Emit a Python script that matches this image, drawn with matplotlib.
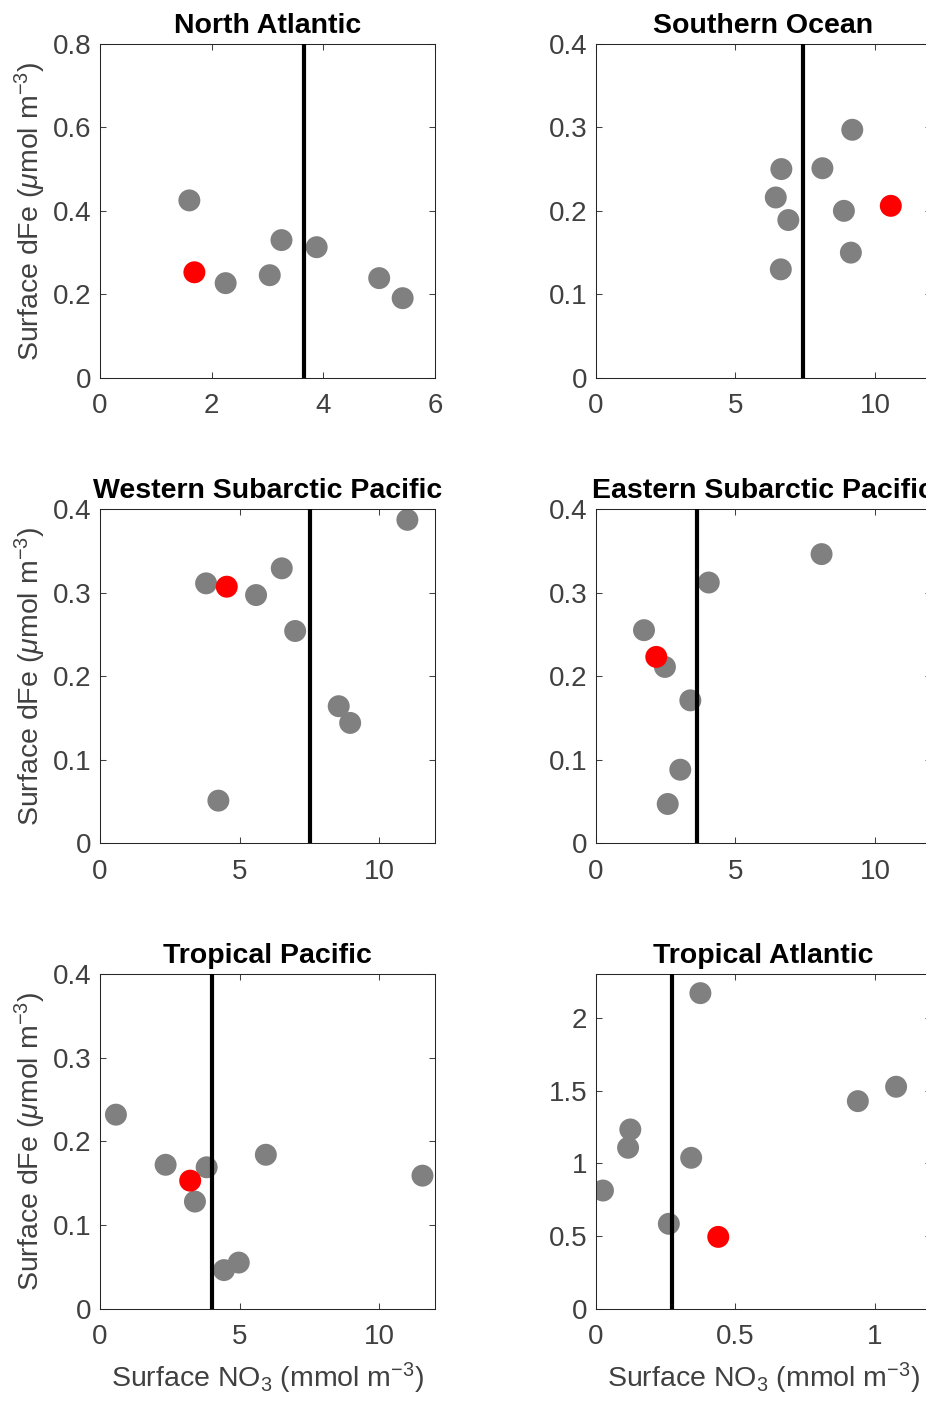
import matplotlib
matplotlib.use("Agg")
import matplotlib.pyplot as plt
from matplotlib.ticker import FuncFormatter

plt.rcParams['font.family'] = ['Liberation Sans', 'DejaVu Sans']
plt.rcParams['mathtext.fontset'] = 'custom'
plt.rcParams['mathtext.rm'] = 'Liberation Sans'
plt.rcParams['mathtext.it'] = 'Liberation Sans:italic'

# panel titles
titles = ['North Atlantic', 'Southern Ocean',
          'Western Subarctic Pacific', 'Eastern Subarctic Pacific',
          'Tropical Pacific', 'Tropical Atlantic']

# grey points: surface NO3 (mmol m-3) and surface dFe (umol m-3)
na_no3 = [1.60, 2.25, 3.04, 3.25, 3.88, 5.00, 5.42]
na_dfe = [0.425, 0.227, 0.246, 0.330, 0.313, 0.239, 0.191]
so_no3 = [9.19, 6.65, 8.12, 6.45, 6.90, 8.89, 9.14, 6.63]
so_dfe = [0.297, 0.250, 0.251, 0.216, 0.189, 0.200, 0.150, 0.130]
wsp_no3 = [11.01, 3.80, 5.59, 6.51, 6.99, 8.55, 8.96, 4.24]
wsp_dfe = [0.387, 0.311, 0.297, 0.329, 0.254, 0.164, 0.144, 0.051]
esp_no3 = [8.09, 4.05, 1.73, 2.48, 3.39, 3.03, 2.58]
esp_dfe = [0.346, 0.312, 0.255, 0.211, 0.171, 0.088, 0.047]
tp_no3 = [0.57, 2.35, 3.82, 3.40, 5.94, 11.55, 4.44, 4.97]
tp_dfe = [0.232, 0.172, 0.169, 0.128, 0.184, 0.159, 0.046, 0.055]
ta_no3 = [0.375, 1.076, 0.939, 0.124, 0.116, 0.342, 0.026, 0.262]
ta_dfe = [2.17, 1.526, 1.427, 1.232, 1.106, 1.037, 0.812, 0.583]

# red points (one per panel)
red_no3 = [1.69, 10.57, 4.54, 2.17, 3.23, 0.439]
red_dfe = [0.253, 0.206, 0.307, 0.223, 0.153, 0.493]

# vertical threshold line per panel
vline_x = [3.65, 7.43, 7.53, 3.63, 4.01, 0.274]

grey_x = [na_no3, so_no3, wsp_no3, esp_no3, tp_no3, ta_no3]
grey_y = [na_dfe, so_dfe, wsp_dfe, esp_dfe, tp_dfe, ta_dfe]

xlims = [(0, 6), (0, 12), (0, 12), (0, 12), (0, 12), (0, 1.2)]
ylims = [(0, 0.8), (0, 0.4), (0, 0.4), (0, 0.4), (0, 0.4), (0, 2.3)]
xticks = [[0, 2, 4, 6], [0, 5, 10], [0, 5, 10], [0, 5, 10], [0, 5, 10], [0, 0.5, 1]]
yticks = [[0, 0.2, 0.4, 0.6, 0.8], [0, 0.1, 0.2, 0.3, 0.4], [0, 0.1, 0.2, 0.3, 0.4],
          [0, 0.1, 0.2, 0.3, 0.4], [0, 0.1, 0.2, 0.3, 0.4], [0, 0.5, 1, 1.5, 2]]

fig = plt.figure(figsize=(9.26, 14.01), dpi=100)

# right column runs past the figure edge, as in the cropped original
lefts = [0.108, 0.6433]
bottoms = [0.7302, 0.3981, 0.066]
w, h = 0.3618, 0.2386

axcol = '#262626'
fmt = FuncFormatter(lambda v, p: '%g' % v)

for i in range(6):
    r, c = divmod(i, 2)
    ax = fig.add_axes([lefts[c], bottoms[r], w, h])
    ax.scatter(grey_x[i], grey_y[i], s=250, color='#808080', edgecolors='none', zorder=2)
    ax.scatter(red_no3[i], red_dfe[i], s=250, color='#ff0000', edgecolors='none', zorder=3)
    ax.axvline(vline_x[i], color='black', lw=3, zorder=4)
    ax.set_xlim(xlims[i])
    ax.set_ylim(ylims[i])
    ax.set_xticks(xticks[i])
    ax.set_yticks(yticks[i])
    ax.xaxis.set_major_formatter(fmt)
    ax.yaxis.set_major_formatter(fmt)
    ax.tick_params(direction='in', top=True, right=True, length=4, width=0.75,
                   colors='#404040', labelsize=20)
    ax.tick_params(axis='x', pad=11)
    ax.tick_params(axis='y', pad=6)
    for sp in ax.spines.values():
        sp.set_color(axcol)
        sp.set_linewidth(0.75)
    ax.set_title(titles[i], fontsize=20.5, fontweight='bold', pad=8)
    if c == 0:
        ax.set_ylabel(r'Surface dFe ($\mu$mol m$^{-3}$)', fontsize=20.5, color='#404040')
        ax.yaxis.set_label_coords(-0.155, 0.5)
    if r == 2:
        ax.set_xlabel(r'Surface NO$_3$ (mmol m$^{-3}$)', fontsize=20.5, color='#404040')
        ax.xaxis.set_label_coords(0.5, -0.155)

fig.savefig('out.png', dpi=100)
